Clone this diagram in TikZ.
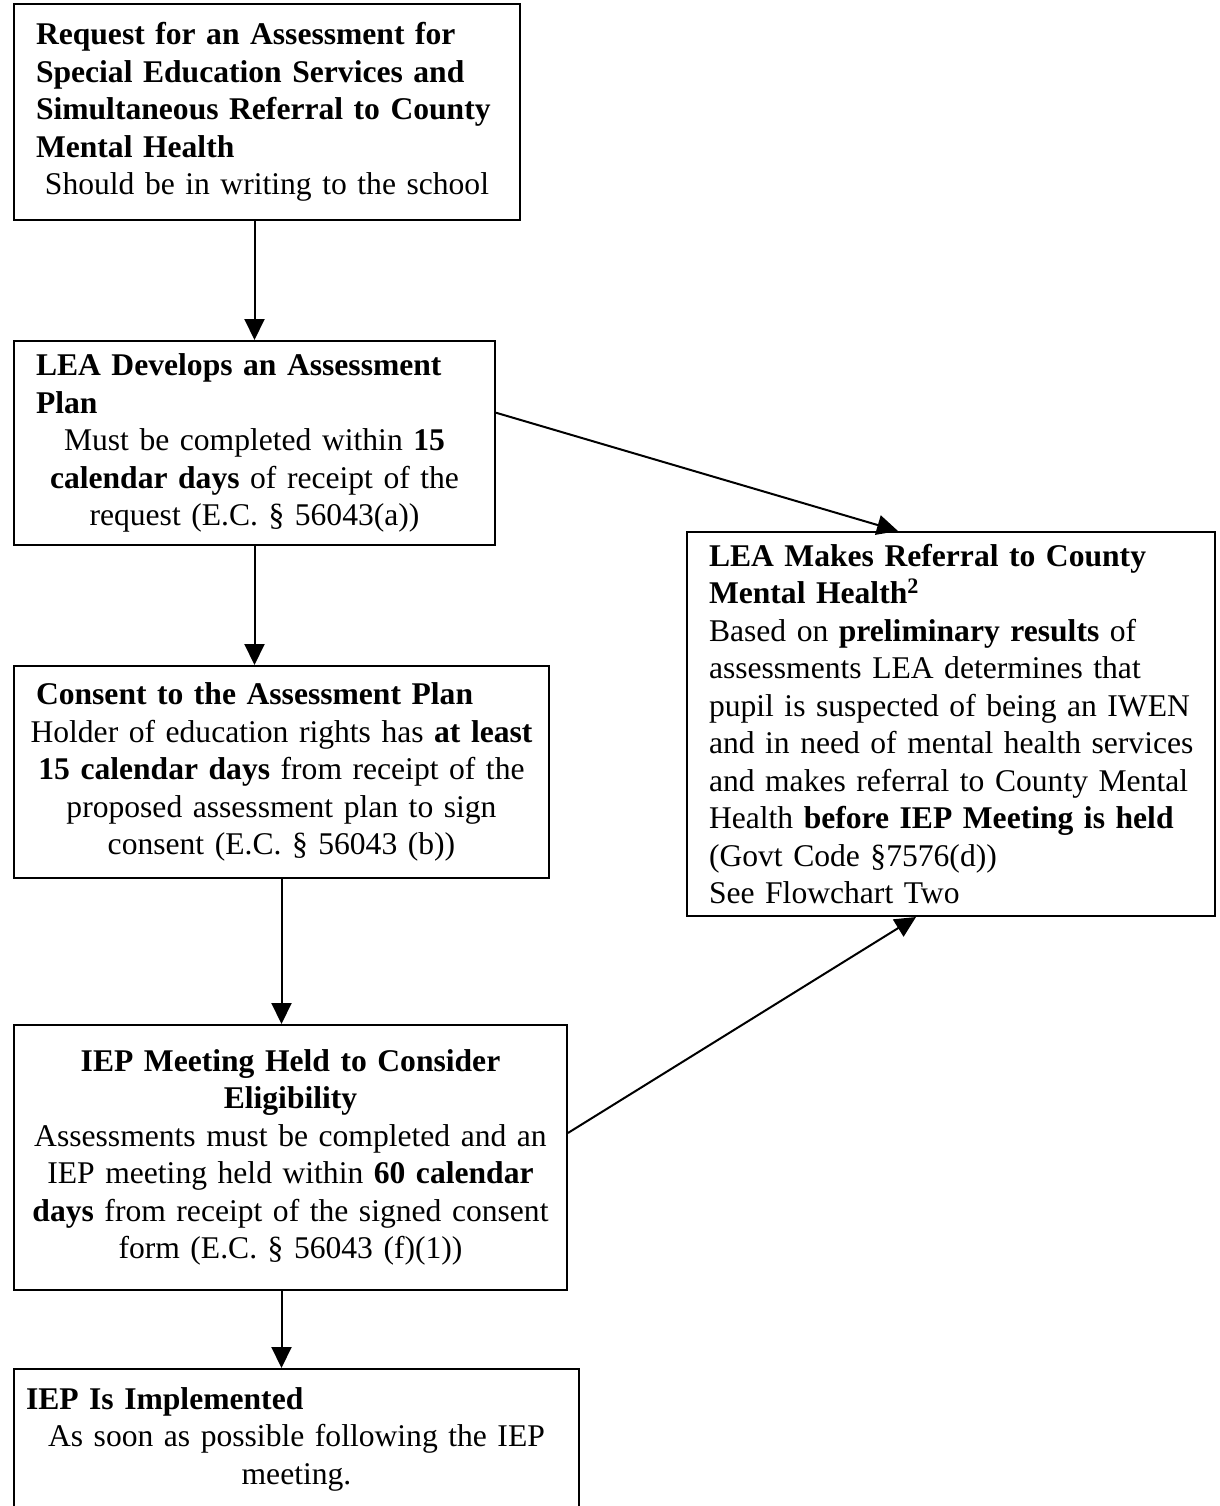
\documentclass[tikz,border=0pt]{standalone}
\usepackage{fontspec}
\setmainfont{Liberation Serif}
\usetikzlibrary{arrows.meta, positioning, calc}

\begin{document}
\begin{tikzpicture}[
    x=0.5pt, y=-0.5pt,
    stage/.style={draw, line width=1pt, anchor=north west, inner xsep=6pt, inner ysep=0pt, font=\fontsize{15.8}{18.75}\selectfont},
    flow/.style={line width=1pt, -{Triangle[length=10.5pt, width=10pt]}}
]
    \useasboundingbox (0,0) rectangle (1220,1506);

    % Request
    \node[stage, minimum width=253pt, minimum height=108pt, text width=241pt] (request) at (13,3) {
        {\raggedright\leftskip=5pt\bfseries Request for an Assessment for\\ Special Education Services and\\ Simultaneous Referral to County\\ Mental Health\par}
        {\centering Should be in writing to the school\par}
    };

    % Assessment plan
    \node[stage, minimum width=240.5pt, minimum height=102pt, text width=228.5pt] (plan) at (13,340) {
        {\raggedright\leftskip=5pt\bfseries LEA Develops an Assessment\\ Plan\par}
        {\centering Must be completed within \textbf{15}\\ \textbf{calendar days} of receipt of the\\ request (E.C. § 56043(a))\par}
    };

    % Consent
    \node[stage, minimum width=267.5pt, minimum height=106pt, text width=255.5pt] (consent) at (13,665) {
        {\raggedright\leftskip=5pt\bfseries Consent to the Assessment Plan\par}
        {\centering Holder of education rights has \textbf{at least}\\ \textbf{15 calendar days} from receipt of the\\ proposed assessment plan to sign\\ consent (E.C. § 56043 (b))\par}
        \vspace{7pt}
    };

    % Referral to county
    \node[stage, minimum width=264pt, minimum height=192pt, text width=252pt] (referral) at (686,531) {
        {\raggedright\leftskip=5pt\textbf{LEA Makes Referral to County\\ Mental Health\textsuperscript{2}}\\ Based on \textbf{preliminary results} of\\ assessments LEA determines that\\ pupil is suspected of being an IWEN\\ and in need of mental health services\\ and makes referral to County Mental\\ Health \textbf{before IEP Meeting is held}\\ (Govt Code §7576(d))\\ See Flowchart Two\par}
    };

    % IEP meeting
    \node[stage, minimum width=276.5pt, minimum height=132.5pt, text width=264.5pt] (meeting) at (13,1024) {
        {\centering\textbf{IEP Meeting Held to Consider\\ Eligibility}\\ Assessments must be completed and an\\ IEP meeting held within \textbf{60 calendar}\\ \textbf{days} from receipt of the signed consent\\ form (E.C. § 56043 (f)(1))\par}
        \vspace{8pt}
    };

    % Implementation
    \node[stage, minimum width=282.5pt, minimum height=70pt, text width=270.5pt] (implement) at (13,1368) {
        {\raggedright\bfseries IEP Is Implemented\par}
        {\centering As soon as possible following the IEP\\ meeting.\par}
    };

    % Connectors
    \draw[flow] (plan.north |- request.south) -- (plan.north);
    \draw[flow] (plan.south) -- (plan.south |- consent.north);
    \draw[flow] (consent.south) -- (consent.south |- meeting.north);
    \draw[flow] (consent.south |- meeting.south) -- (consent.south |- implement.north);
    \draw[flow] ($(plan.north east)!0.353!(plan.south east)$) -- ($(referral.north west)!0.40!(referral.north east)$);
    \draw[flow] ($(meeting.north east)!0.408!(meeting.south east)$) -- ($(referral.south west)!0.434!(referral.south east)$);

\end{tikzpicture}
\end{document}
